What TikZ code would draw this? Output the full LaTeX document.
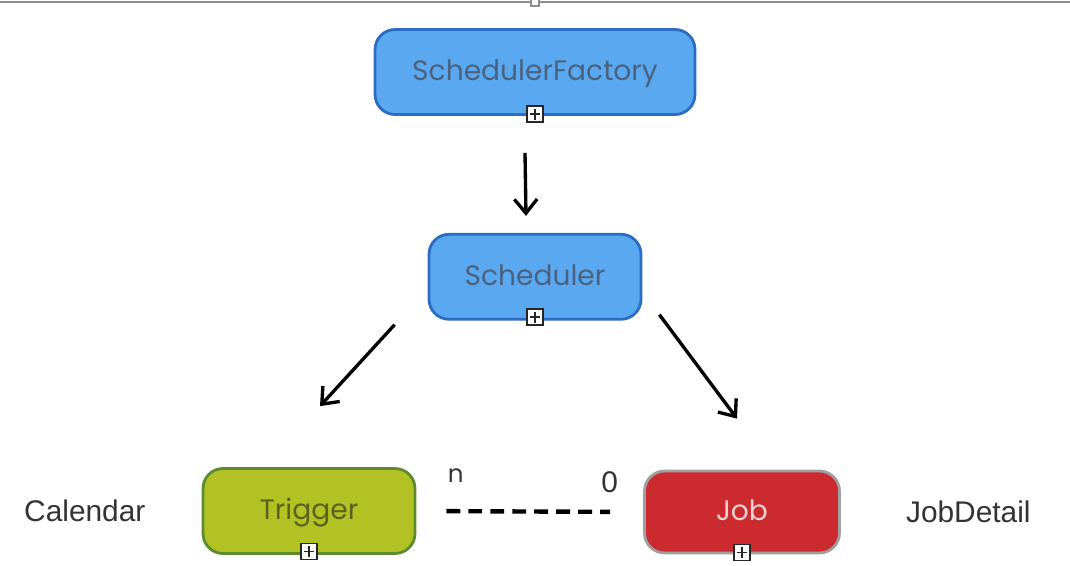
\documentclass[tikz,border=0pt]{standalone}
\usepackage{fontspec}
\setmainfont{Liberation Sans}
\newfontfamily\handfont{Poppins}
\usetikzlibrary{arrows.meta, positioning, calc}

\definecolor{boxblue}{HTML}{5AA8F0}
\definecolor{blueline}{HTML}{2B6CC4}
\definecolor{bluetext}{HTML}{4A6280}
\definecolor{boxgreen}{HTML}{B2C224}
\definecolor{greenline}{HTML}{5C8C2E}
\definecolor{greentext}{HTML}{56641E}
\definecolor{boxred}{HTML}{CB2A2F}
\definecolor{redline}{HTML}{A0A0A0}
\definecolor{redtext}{HTML}{F3D0D0}

\begin{document}
\begin{tikzpicture}[
      x=0.02cm, y=-0.02cm,
      node distance=10mm,
      block/.style={
          rectangle,
          rounded corners=0.4cm,
          line width=1.6pt,
          align=center,
          minimum height=1.7cm,
          text height=1.0em,
          text depth=0pt,
          font=\handfont\fontsize{16}{19}\selectfont
        },
      bluebox/.style={
          block,
          draw=blueline,
          fill=boxblue,
          text=bluetext
        },
      greenbox/.style={
          block,
          draw=greenline,
          fill=boxgreen,
          text=greentext
        },
      redbox/.style={
          block,
          draw=redline,
          fill=boxred,
          text=redtext
        },
      plusbox/.style={
          rectangle,
          draw=black!85,
          fill=white,
          line width=0.8pt,
          minimum size=0.32cm,
          inner sep=0pt,
          path picture={
              \draw[line width=0.8pt]
                ([xshift=1.5pt]path picture bounding box.west) -- ([xshift=-1.5pt]path picture bounding box.east)
                ([yshift=-1.5pt]path picture bounding box.north) -- ([yshift=1.5pt]path picture bounding box.south);
            }
        },
      plain/.style={
          text=black!80,
          font=\fontsize{17}{20}\selectfont
        },
      arrow/.style={
          -{Straight Barb[length=8pt,width=13pt]},
          line width=1.9pt
        },
      link/.style={
          line width=2.5pt,
          dash pattern=on 7.9pt off 4.6pt
        }
    ]

    \useasboundingbox (0,0) rectangle (1070,565);
    \draw[black!45, line width=0.6pt] (0,2) -- (1070,2);
    \draw[black!45, fill=white, line width=0.6pt] (531,-1) rectangle (539,6);

    % Nodes
    \node[bluebox, minimum width=6.4cm] (factory) at (535,72) {SchedulerFactory};
    \node[bluebox, minimum width=4.24cm, below=2.34cm of factory] (scheduler) {Scheduler};
    \node[greenbox, minimum width=4.24cm] (trigger) at (309,511) {Trigger};
    \node[redbox, minimum width=3.9cm, minimum height=1.64cm] (job) at (742,512) {Job};
    \node[plain, left=1.0cm of trigger] (calendar) {Calendar};
    \node[plain, right=1.18cm of job] (jobdetail) {JobDetail};

    \node[plusbox, yshift=1pt] (factoryplus) at (factory.south) {};
    \node[plusbox, yshift=2pt] (schedulerplus) at (scheduler.south) {};
    \node[plusbox, yshift=2pt] (triggerplus) at (trigger.south) {};
    \node[plusbox, yshift=1pt] (jobplus) at (job.south) {};

    % Arrows
    \draw[arrow] ($(factory.south)+(-10,37)$) -- ($(scheduler.north)+(-9,-17)$);
    \draw[arrow] ($(scheduler.south west)+(-33,4)$) -- ($(trigger.north)+(11,-61)$);
    \draw[arrow] ($(scheduler.south east)+(17,-6)$) -- ($(job.north)+(-5,-51)$);
    \draw[link, shorten <=0.6cm, shorten >=0.66cm] (trigger.east) -- (job.west)
      node[pos=0.174, above=0.42cm, font=\handfont\fontsize{14}{16}\selectfont, text=black!80] (nlabel) {n}
      node[pos=0.852, above=0.22cm, plain] (zerolabel) {0};

  \end{tikzpicture}
\end{document}
